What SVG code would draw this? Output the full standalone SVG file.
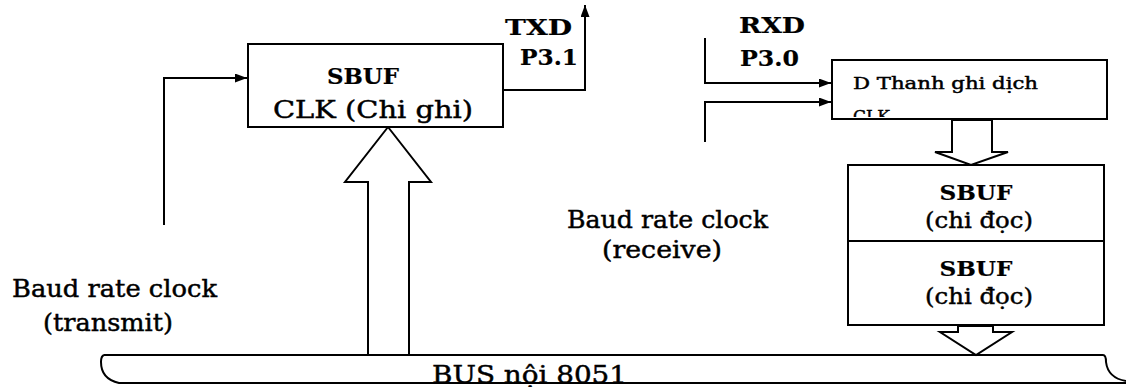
<svg xmlns="http://www.w3.org/2000/svg" width="1126" height="387" viewBox="0 0 1126 387">
<style>
  .box{fill:#fff;stroke:#000;stroke-width:2}
  .ln{fill:none;stroke:#000;stroke-width:2}
  .hollow{fill:#fff;stroke:#000;stroke-width:2;stroke-linejoin:miter}
  .t{font-family:"DejaVu Serif","Liberation Serif",serif;fill:#000;stroke:#000;stroke-width:0.45}
  .b{font-weight:bold;stroke-width:0.2}
</style>
<defs>
  <marker id="ah" viewBox="0 0 12 9" refX="12" refY="4.5" markerWidth="12" markerHeight="9" markerUnits="userSpaceOnUse" orient="auto">
    <path d="M0,0 L12,4.5 L0,9 Z" fill="#000"/>
  </marker>
  <clipPath id="srclip"><rect x="833" y="61" width="273" height="56"/></clipPath>
</defs>
<rect width="1126" height="387" fill="#fff"/>

<g id="connectors">
  <path class="ln" d="M164,225 V78 H247" marker-end="url(#ah)"/>
  <path class="ln" d="M503,90 H585 V5" marker-end="url(#ah)"/>
  <path class="ln" d="M705,38 V83 H831" marker-end="url(#ah)"/>
  <path class="ln" d="M705,142 V102 H831" marker-end="url(#ah)"/>
  <polygon class="hollow" points="368,355 368,182 345,182 388,127 431,182 409,182 409,355"/>
  <polygon class="hollow" points="952,120 952,152 935,152 971,165 1008,152 992,152 992,120"/>
  <polygon class="hollow" points="958,326 958,332 940,332 976,355 1012,332 993,332 993,326"/>
</g>

<g id="bus">
  <path class="ln" d="M104,355 H1103 Q1106,355 1106,362 Q1108,378 1126,381"/>
  <path class="ln" d="M104,355 Q101,356 101,362 Q101,379 119,383 H1126"/>
  <text class="t" x="432" y="383" font-size="24" textLength="195" lengthAdjust="spacingAndGlyphs">BUS nội 8051</text>
</g>

<g id="sbuf-tx">
  <rect class="box" x="248" y="44" width="255" height="83"/>
  <text class="t b" x="327" y="84" font-size="23" textLength="72" lengthAdjust="spacingAndGlyphs">SBUF</text>
  <text class="t" x="273" y="118" font-size="25" textLength="200" lengthAdjust="spacingAndGlyphs">CLK  (Chi ghi)</text>
</g>

<g id="txd-label">
  <text class="t b" x="505" y="35" font-size="23" textLength="67" lengthAdjust="spacingAndGlyphs">TXD</text>
  <text class="t b" x="520" y="65" font-size="23" textLength="58" lengthAdjust="spacingAndGlyphs">P3.1</text>
</g>

<g id="rxd-label">
  <text class="t b" x="739" y="33" font-size="23" textLength="66" lengthAdjust="spacingAndGlyphs">RXD</text>
  <text class="t b" x="740" y="66" font-size="23" textLength="59" lengthAdjust="spacingAndGlyphs">P3.0</text>
</g>

<g id="shift-register">
  <rect class="box" x="832" y="60" width="275" height="59"/>
  <text class="t" x="853" y="89" font-size="16" textLength="185" lengthAdjust="spacingAndGlyphs">D  Thanh ghi dịch</text>
  <text class="t" x="853" y="122" font-size="17" clip-path="url(#srclip)">CLK</text>
</g>

<g id="sbuf-rx">
  <rect class="box" x="848" y="165" width="256" height="160"/>
  <line class="ln" x1="848" y1="241" x2="1104" y2="241"/>
  <text class="t b" x="976" y="200" font-size="21" text-anchor="middle" textLength="73" lengthAdjust="spacingAndGlyphs">SBUF</text>
  <text class="t" x="979" y="228" font-size="22" text-anchor="middle" textLength="108" lengthAdjust="spacingAndGlyphs">(chi đọc)</text>
  <text class="t b" x="976" y="276" font-size="21" text-anchor="middle" textLength="73" lengthAdjust="spacingAndGlyphs">SBUF</text>
  <text class="t" x="979" y="304" font-size="22" text-anchor="middle" textLength="108" lengthAdjust="spacingAndGlyphs">(chi đọc)</text>
</g>

<g id="baud-transmit">
  <text class="t" x="12" y="297" font-size="24" textLength="205" lengthAdjust="spacingAndGlyphs">Baud rate clock</text>
  <text class="t" x="43" y="331" font-size="24" textLength="130" lengthAdjust="spacingAndGlyphs">(transmit)</text>
</g>

<g id="baud-receive">
  <text class="t" x="567" y="228" font-size="24" textLength="201" lengthAdjust="spacingAndGlyphs">Baud rate clock</text>
  <text class="t" x="602" y="258" font-size="24" textLength="120" lengthAdjust="spacingAndGlyphs">(receive)</text>
</g>
</svg>
